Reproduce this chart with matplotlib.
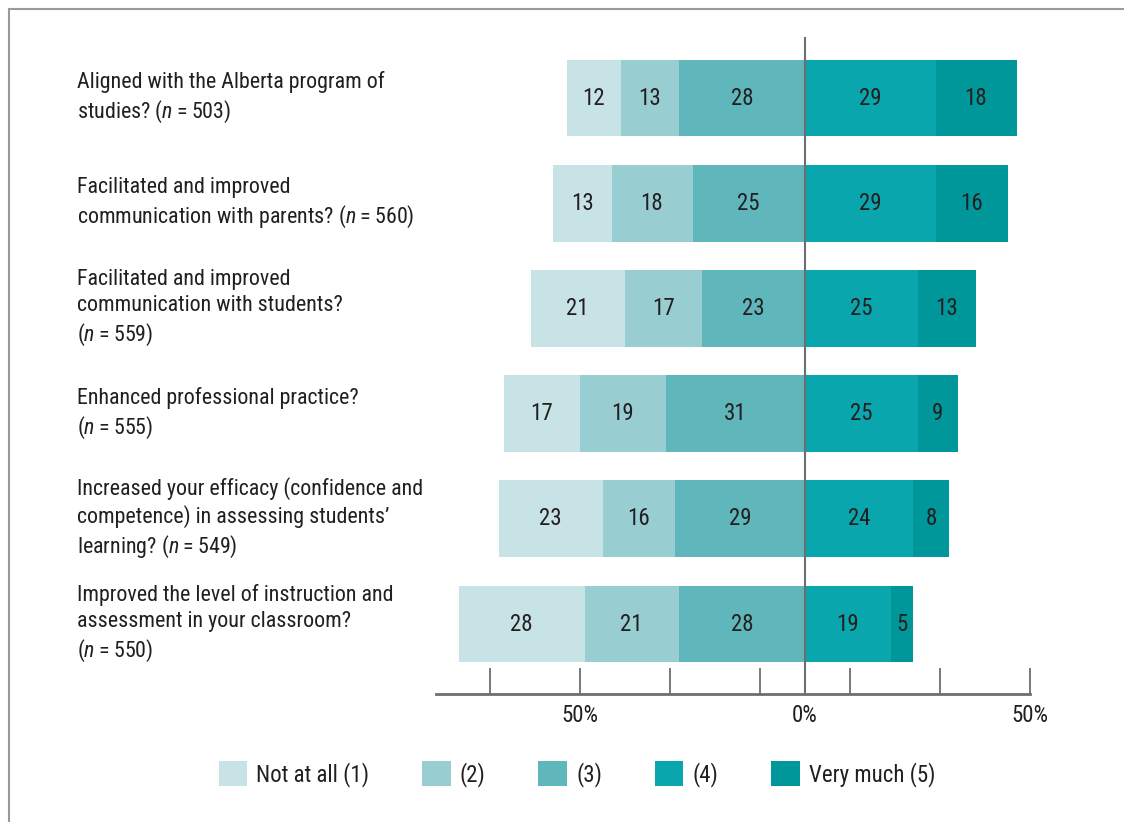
import matplotlib
matplotlib.use("Agg")
import matplotlib.pyplot as plt
from matplotlib import font_manager
from matplotlib.patches import Patch, Rectangle

# Survey items and response shares (%)
questions = [
    "Aligned with the Alberta program of\nstudies? ($n$\u2009=\u2009503)",
    "Facilitated and improved\ncommunication with parents? ($n$\u2009=\u2009560)",
    "Facilitated and improved\ncommunication with students?\n($n$\u2009=\u2009559)",
    "Enhanced professional practice?\n($n$\u2009=\u2009555)",
    "Increased your efficacy (confidence and\ncompetence) in assessing students\u2019\nlearning? ($n$\u2009=\u2009549)",
    "Improved the level of instruction and\nassessment in your classroom?\n($n$\u2009=\u2009550)",
]
not_at_all = [12, 13, 21, 17, 23, 28]
level_2 = [13, 18, 17, 19, 16, 21]
level_3 = [28, 25, 23, 31, 29, 28]
level_4 = [29, 29, 25, 25, 24, 19]
very_much = [18, 16, 13, 9, 8, 5]

legend_labels = ["Not at all (1)", "(2)", "(3)", "(4)", "Very much (5)"]
tick_positions = [-70, -50, -30, -10, 0, 10, 30, 50]
tick_labels = ["", "50%", "", "", "0%", "", "", "50%"]

colors = ["#c8e3e6", "#98cdd2", "#5fb7bc", "#0aa6ae", "#00979b"]
text_color = "#231f20"

# pick a narrow sans face when available
family = "Liberation Sans"
for cand in ["Liberation Sans Narrow", "Roboto Condensed", "Open Sans Condensed"]:
    try:
        font_manager.findfont(cand, fallback_to_default=False)
        family = cand
        break
    except Exception:
        pass
plt.rcParams["font.family"] = [family, "DejaVu Sans"]
plt.rcParams["mathtext.fontset"] = "custom"
plt.rcParams["mathtext.it"] = family + ":italic"
plt.rcParams["mathtext.rm"] = family

W, H = 1124, 822
fig = plt.figure(figsize=(W / 100, H / 100), dpi=100)

# axes placed by pixel geometry
x0, x1 = 436, 1030
y_top, y_bot = 37, 694
ax = fig.add_axes([x0 / W, 1 - y_bot / H, (x1 - x0) / W, (y_bot - y_top) / H])

row_gap = 105.2
first_center = 98
ax.set_xlim(-82, 50)
ax.set_ylim((y_bot - first_center) / row_gap, (y_top - first_center) / row_gap)

fs = 16.5
qfs = 15.8
n = len(questions)
for i in range(n):
    left_vals = [level_3[i], level_2[i], not_at_all[i]]
    left_cols = [colors[2], colors[1], colors[0]]
    start = 0
    for v, c in zip(left_vals, left_cols):
        ax.barh(i, -v, left=start, height=0.73, color=c, edgecolor="none")
        ax.text(start - v / 2, i, str(v), ha="center", va="center",
                fontsize=fs, color=text_color)
        start -= v
    start = 0
    for v, c in zip([level_4[i], very_much[i]], [colors[3], colors[4]]):
        ax.barh(i, v, left=start, height=0.73, color=c, edgecolor="none")
        ax.text(start + v / 2, i, str(v), ha="center", va="center",
                fontsize=fs, color=text_color)
        start += v
    fig.text(77 / W, 1 - (first_center + row_gap * i) / H, questions[i],
             ha="left", va="center", fontsize=qfs, color=text_color,
             linespacing=1.3)

# centre line
ax.axvline(0, color="#6d6e71", lw=1.5, zorder=5)

for s in ["top", "right", "left"]:
    ax.spines[s].set_visible(False)
ax.spines["bottom"].set_color("#6d6e71")
ax.spines["bottom"].set_linewidth(2)
ax.set_yticks([])
ax.set_xticks(tick_positions)
ax.set_xticklabels(tick_labels, fontsize=fs, color=text_color)
ax.tick_params(axis="x", direction="in", length=19, width=1.3,
               color="#6d6e71", pad=7)

# legend
handles = [Patch(facecolor=c, edgecolor="none") for c in colors]
fig.legend(handles, legend_labels, loc="center left",
           bbox_to_anchor=(198 / W, 1 - 774 / H), ncol=5, frameon=False,
           fontsize=fs, handlelength=1.25, handleheight=1.25,
           handletextpad=0.4, columnspacing=2.3, labelcolor=text_color)

# outer frame
fig.patches.append(Rectangle((9 / W, -0.1), 1.2, 1 - 9 / H + 0.1,
                             transform=fig.transFigure, fill=False,
                             edgecolor="#9a9a9a", lw=1.5))

fig.savefig("out.png", dpi=100)
